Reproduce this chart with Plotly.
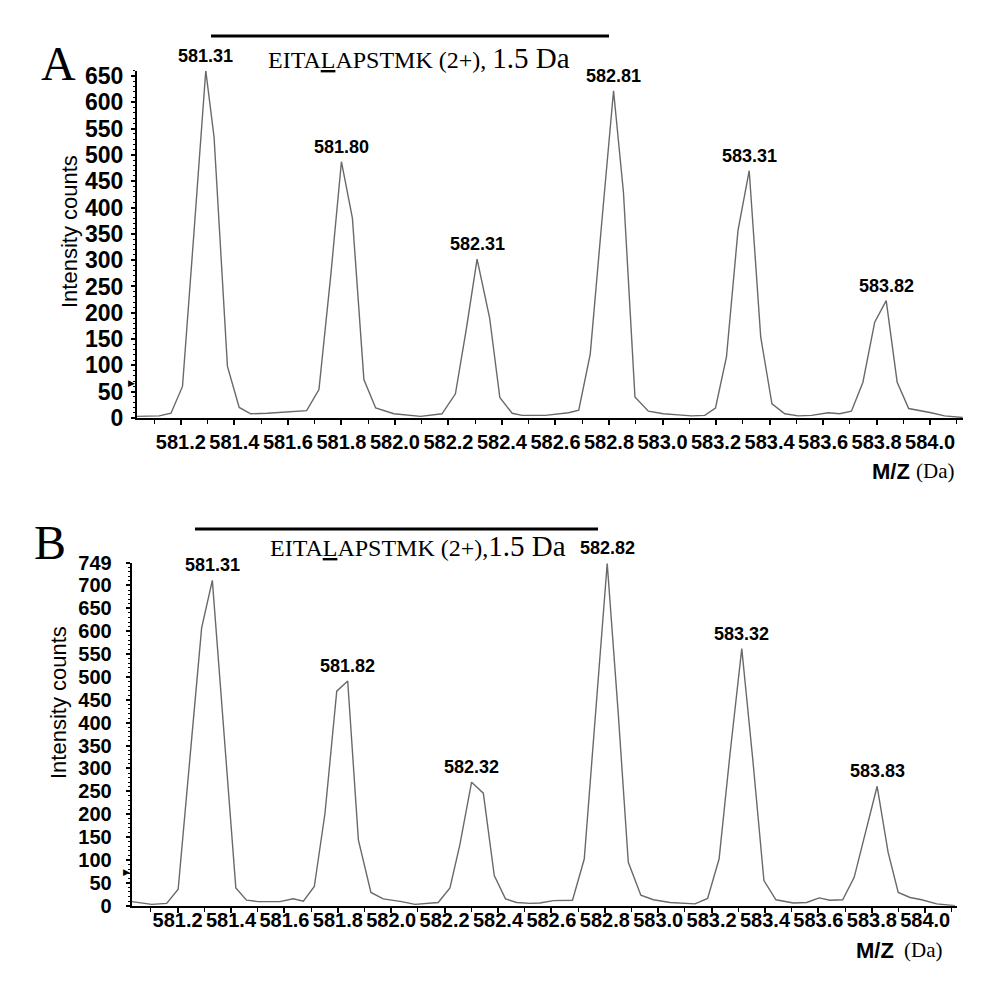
import plotly.graph_objects as go

# ---- data (m/z, intensity counts) ----
mz_a = [581.036, 581.119, 581.163, 581.206, 581.250, 581.293, 581.324, 581.374, 581.418, 581.461,
        581.523, 581.573, 581.623, 581.670, 581.716, 581.760, 581.800, 581.841, 581.884, 581.928,
        581.996, 582.096, 582.176, 582.226, 582.267, 582.307, 582.354, 582.392, 582.438, 582.475,
        582.562, 582.605, 582.649, 582.687, 582.730, 582.773, 582.817, 582.854, 582.897, 582.947,
        583.003, 583.059, 583.108, 583.158, 583.198, 583.239, 583.282, 583.324, 583.367, 583.409,
        583.457, 583.507, 583.557, 583.619, 583.662, 583.706, 583.749, 583.793, 583.836, 583.877,
        583.920, 584.004, 584.054, 584.122]
int_a = [3, 4, 9, 60, 360, 660, 534, 98, 20, 8,
         9, 11, 13, 14, 54, 270, 487, 380, 73, 19,
         8, 3, 8, 46, 170, 302, 190, 39, 9, 5,
         5, 8, 10, 15, 122, 372, 622, 429, 40, 13,
         8, 6, 4, 5, 19, 116, 356, 470, 154, 27,
         8, 4, 5, 10, 8, 13, 68, 182, 223, 68,
         18, 10, 4, 1]

mz_b = [581.028, 581.103, 581.159, 581.202, 581.246, 581.290, 581.330, 581.374, 581.418, 581.458,
        581.502, 581.583, 581.633, 581.671, 581.712, 581.752, 581.796, 581.837, 581.877, 581.924,
        581.970, 582.039, 582.089, 582.176, 582.220, 582.257, 582.301, 582.345, 582.386, 582.428,
        582.470, 582.520, 582.557, 582.607, 582.679, 582.723, 582.767, 582.809, 582.850, 582.888,
        582.935, 582.982, 583.044, 583.094, 583.138, 583.185, 583.228, 583.269, 583.313, 583.354,
        583.396, 583.441, 583.506, 583.556, 583.603, 583.643, 583.691, 583.734, 583.778, 583.820,
        583.861, 583.899, 583.943, 583.987, 584.043, 584.112]
int_b = [9, 3, 5, 36, 322, 607, 711, 374, 39, 12,
         9, 9, 15, 10, 42, 202, 469, 491, 144, 29,
         15, 9, 3, 7, 39, 133, 270, 246, 66, 15,
         7, 5, 6, 11, 12, 102, 429, 748, 423, 95,
         23, 13, 7, 6, 4, 16, 102, 332, 562, 321,
         55, 13, 6, 7, 17, 12, 13, 62, 163, 261,
         117, 29, 18, 13, 4, 0]

peaks_a = ["581.31", "581.80", "582.31", "582.81", "583.31", "583.82"]
peaks_b = ["581.31", "581.82", "582.32", "582.82", "583.32", "583.83"]

yticks_a = list(range(0, 651, 50))
yticks_b = list(range(0, 701, 50)) + [749]
threshold_a = 66
threshold_b = 74

W, H = 1006, 990
OFF = 8  # page body margin
SANS = "Liberation Sans, Arial, sans-serif"
SERIF = "Liberation Serif, Times New Roman, serif"
LINE = "rgb(105,105,105)"


def px(x):
    return (x - OFF) / W


def py(y):
    return 1 - (y - OFF) / H


fig = go.Figure()
fig.add_trace(go.Scatter(x=mz_a, y=int_a, mode="lines", line=dict(color=LINE, width=1.4),
                         xaxis="x", yaxis="y", showlegend=False))
fig.add_trace(go.Scatter(x=mz_b, y=int_b, mode="lines", line=dict(color=LINE, width=1.4),
                         xaxis="x2", yaxis="y2", showlegend=False))

ann = []


def peak_labels(mz, inten, labels, xr, yr):
    for lab in labels:
        c = float(lab)
        pts = [(v, m) for m, v in zip(mz, inten) if abs(m - c) < 0.1]
        v, m = max(pts)
        ann.append(dict(x=m, y=v, xref=xr, yref=yr, text="<b>%s</b>" % lab, showarrow=False,
                        xanchor="center", yanchor="middle", yshift=15,
                        font=dict(family=SANS, size=18, color="black")))


peak_labels(mz_a, int_a, peaks_a, "x", "y")
peak_labels(mz_b, int_b, peaks_b, "x2", "y2")


def note(x, y, text, font, xanchor="center", yanchor="middle", **kw):
    ann.append(dict(x=px(x), y=py(y), xref="paper", yref="paper", text=text, showarrow=False,
                    xanchor=xanchor, yanchor=yanchor, font=font, **kw))


# panel letters
note(58, 63, "A", dict(family=SERIF, size=48, color="black"))
note(50, 542, "B", dict(family=SERIF, size=48, color="black"))

# peptide titles
note(266, 58, "EITA<u>L</u>APSTMK (2+), <span style='font-size:29px'>1.5 Da</span>",
     dict(family=SERIF, size=24, color="black"), xanchor="left")
note(268, 546, "EITA<u>L</u>APSTMK (2+),<span style='font-size:29px'>1.5 Da</span>",
     dict(family=SERIF, size=24, color="black"), xanchor="left")

# y titles
for xc, yc in ((69, 232), (58, 703)):
    note(xc, yc, "Intensity counts", dict(family=SANS, size=22, color="black"), textangle=-90)

# x titles
for xr_, xd, yc in ((912, 914, 471), (896, 902, 950)):
    note(xr_, yc, "<b>M/Z</b>", dict(family=SANS, size=22, color="black"), xanchor="right")
    note(xd, yc, "(Da)", dict(family=SERIF, size=21, color="black"), xanchor="left")

# threshold markers
for t, xa, yr in ((threshold_a, 137, "y"), (threshold_b, 132, "y2")):
    ann.append(dict(x=px(xa), y=t, xref="paper", yref=yr, xanchor="right", yanchor="middle",
                    text="\u25B6", showarrow=False,
                    font=dict(family="DejaVu Sans", size=9, color="black")))

shapes = [
    dict(type="line", xref="paper", yref="paper", x0=px(211), x1=px(609), y0=py(36), y1=py(36),
         line=dict(color="black", width=3)),
    dict(type="line", xref="paper", yref="paper", x0=px(195), x1=px(598), y0=py(529), y1=py(529),
         line=dict(color="black", width=3)),
]

xcommon = dict(showline=True, linecolor="black", linewidth=2, ticks="outside", ticklen=5,
               tickwidth=1.5, tickcolor="black", tick0=581.2, dtick=0.2, tickformat=".1f",
               tickfont=dict(family=SANS, size=20, color="black", weight="bold"),
               minor=dict(ticks="outside", dtick=0.1, ticklen=4, tickcolor="black", tickwidth=1),
               showgrid=False, zeroline=False, automargin=False)
ycommon = dict(showline=True, linecolor="black", linewidth=2, ticks="outside", ticklen=4,
               tickwidth=1.5, tickcolor="black",
               minor=dict(ticks="outside", dtick=10, ticklen=2, tickcolor="black", tickwidth=1),
               showgrid=False, zeroline=False, automargin=False)

fig.update_layout(
    width=W, height=H, margin=dict(l=0, r=0, t=0, b=0),
    paper_bgcolor="white", plot_bgcolor="white",
    xaxis=dict(xcommon, domain=[px(137), px(963)], range=[581.036, 584.123], anchor="y"),
    yaxis=dict(ycommon, domain=[py(418), py(70.7)], range=[0, 660], tickvals=yticks_a, anchor="x",
               ticklabelstandoff=3,
               tickfont=dict(family=SANS, size=23, color="black", weight="bold")),
    xaxis2=dict(xcommon, domain=[px(131.7), px(956.7)], range=[581.028, 584.118], anchor="y2",
                ticklabelstandoff=-10),
    yaxis2=dict(ycommon, domain=[py(905.7), py(563)], range=[0, 749], tickvals=yticks_b, anchor="x2",
                ticklabelstandoff=10,
                tickfont=dict(family=SANS, size=20, color="black", weight="bold")),
    annotations=ann, shapes=shapes,
)

fig.write_html("out.html")
